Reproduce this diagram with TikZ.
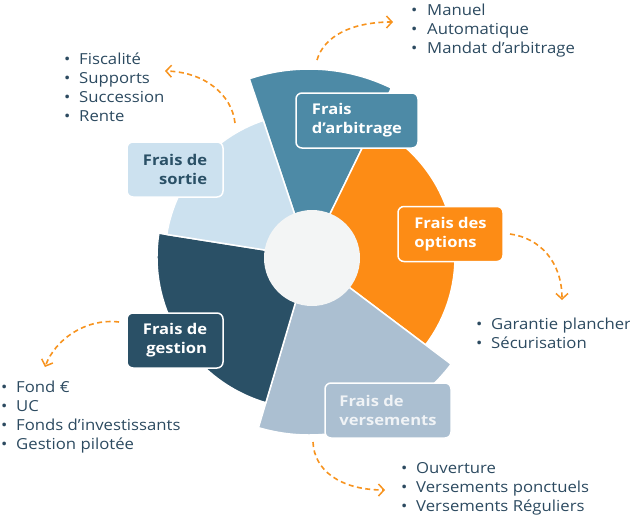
\documentclass[tikz,border=0pt]{standalone}
\usepackage{fontspec}
\setmainfont{Open Sans}[FakeStretch=1.1]
\newfontfamily\lblfont{Open Sans}[FakeStretch=1.12]
\usetikzlibrary{arrows.meta}
\definecolor{arbc}{HTML}{4D8AA6}
\definecolor{optc}{HTML}{FD8C15}
\definecolor{verc}{HTML}{ABBFD1}
\definecolor{gesc}{HTML}{2A5066}
\definecolor{sorc}{HTML}{CCE1EF}
\definecolor{innc}{HTML}{F3F5F5}
\definecolor{txtc}{HTML}{2C4A60}
\definecolor{arrc}{HTML}{F7931E}
\definecolor{vertxt}{HTML}{F0F3F6}
\begin{document}
\begin{tikzpicture}[x=1pt,y=-1pt,
  wedge/.style={draw=white,line width=1.5pt},
  lbl/.style={rounded corners=6pt,draw=white,line width=1.5pt,inner xsep=2pt,inner ysep=0pt,
    minimum height=55pt,font=\lblfont\bfseries\fontsize{14.8}{19}\selectfont},
  item/.style={anchor=base west,inner sep=0pt,text=txtc,font=\fontsize{15.2}{19}\selectfont},
  curly/.style={draw=arrc,line width=1.6pt,dash pattern=on 5pt off 3.5pt,
    -{Straight Barb[length=5.5pt,width=12pt,line width=1.5pt]}}]
\useasboundingbox (0,0) rectangle (630,515);
\coordinate (C) at (309,257);
% wedges
\fill[arbc,wedge] (C) -- ++(-108.5:188) arc[start angle=-108.5,end angle=-64,radius=188] -- cycle;
\fill[optc,wedge] (C) -- ++(-64:146) arc[start angle=-64,end angle=37,radius=146] -- cycle;
\fill[verc,wedge] (C) -- ++(37:178) arc[start angle=37,end angle=106.5,radius=178] -- cycle;
\fill[gesc,wedge] (C) -- ++(106.5:152) arc[start angle=106.5,end angle=189,radius=152] -- cycle;
\fill[sorc,wedge] (C) -- ++(189:144) arc[start angle=189,end angle=251.5,radius=144] -- cycle;
\fill[innc] (312,258) circle[radius=48];
% labels
\node[lbl,fill=arbc,text=white,minimum width=122pt,align=left] (arb) at (357,120.5) {Frais\\d’arbitrage};
\node[lbl,fill=optc,text=white,minimum width=105pt,align=left] (opt) at (450.5,234) {Frais des\\options};
\node[lbl,fill=sorc,text=gesc,minimum width=96pt,align=right] (sor) at (175,169.5) {Frais de\\sortie};
\node[lbl,fill=gesc,text=white,minimum width=96pt,align=right] (ges) at (175,340.5) {Frais de\\gestion};
\node[lbl,fill=verc,text=vertxt,minimum width=126pt,align=left] (ver) at (388,410.5) {Frais de\\versements};
% lists
\foreach \t [count=\i] in {Manuel,Automatique,Mandat d’arbitrage}
  \node[item] (la-\i) at (411,{15+19*(\i-1)}) {\makebox[16pt][l]{\textbullet}\t};
\foreach \t [count=\i] in {Fiscalité,Supports,Succession,Rente}
  \node[item] (ls-\i) at (64,{64+19*(\i-1)}) {\makebox[15pt][l]{\textbullet}\t};
\foreach \t [count=\i] in {Garantie plancher,Sécurisation}
  \node[item] (lo-\i) at (476,{329+19*(\i-1)}) {\makebox[15pt][l]{\textbullet}\t};
\foreach \t [count=\i] in {Fond €,UC,Fonds d’investissants,Gestion pilotée}
  \node[item] (lg-\i) at (1,{392+19*(\i-1)}) {\makebox[15pt][l]{\textbullet}\t};
\foreach \t [count=\i] in {Ouverture,Versements ponctuels,Versements Réguliers}
  \node[item] (lv-\i) at (401,{473+19*(\i-1)}) {\makebox[15pt][l]{\textbullet}\t};
% arrow ends
\coordinate (a1s) at (317,60);  \coordinate (a1e) at (393,22);
\coordinate (a2s) at (235,123); \coordinate (a2e) at (165,71);
\coordinate (a3s) at (510,234); \coordinate (a3e) at (562,300);
\coordinate (a4s) at (119,322); \coordinate (a4e) at (45,367);
\coordinate (a5s) at (313,442); \coordinate (a5e) at (385,490);
\draw[curly] (a1s) .. controls (324,36) and (352,22) .. (a1e);
\draw[curly] (a2s) .. controls (232,95) and (205,72) .. (a2e);
\draw[curly] (a3s) .. controls (540,238) and (562,262) .. (a3e);
\draw[curly] (a4s) .. controls (85,318) and (55,340) .. (a4e);
\draw[curly] (a5s) .. controls (314,470) and (340,490) .. (a5e);
\end{tikzpicture}
\end{document}
